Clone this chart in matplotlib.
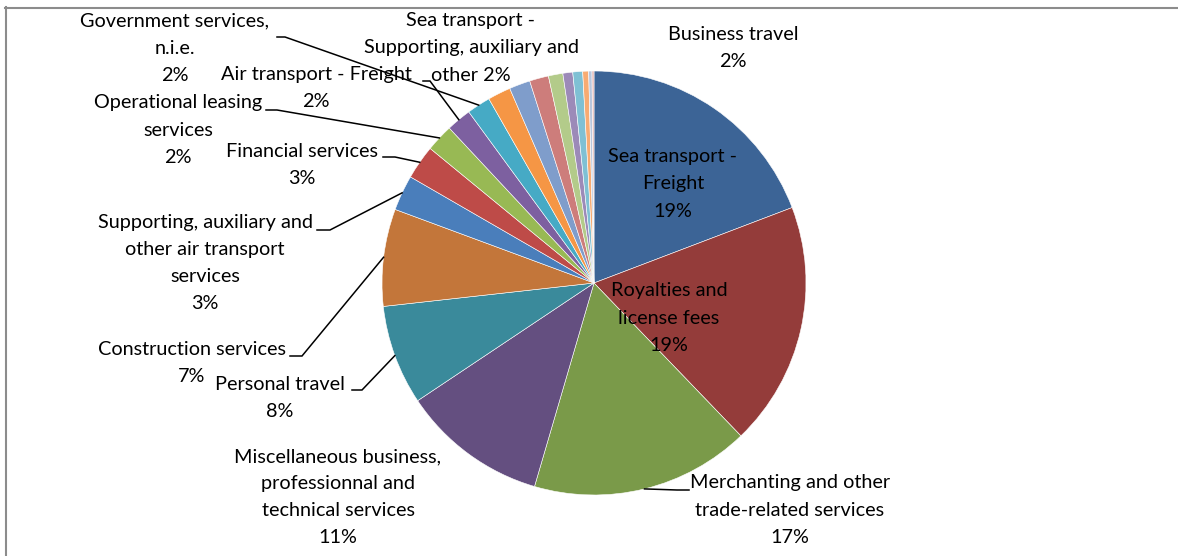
import matplotlib.pyplot as plt
import numpy as np
from matplotlib.lines import Line2D

plt.rcParams['font.family'] = ['Lato', 'DejaVu Sans']

W, H = 1178, 556

# slices, clockwise from 12 o'clock
names = [
    "Sea transport -\nFreight",
    "Royalties and\nlicense fees",
    "Merchanting and other\ntrade-related services",
    "Miscellaneous business,\nprofessionnal and\ntechnical services",
    "Personal travel",
    "Construction services",
    "Supporting, auxiliary and\nother air transport\nservices",
    "Financial services",
    "Operational leasing\nservices",
    "Air transport - Freight",
    "Government services,\nn.i.e.",
    "Sea transport -\nSupporting, auxiliary and\nother",
    "Business travel",
    "", "", "", "", "", "", "",
]
shares = [19.2, 18.6, 16.7, 11.1, 7.6, 7.4, 2.7, 2.6, 2.1, 1.9, 1.8, 1.75, 1.6,
          1.45, 1.1, 0.75, 0.75, 0.45, 0.25, 0.15]
colors = [
    "#3c6496", "#943c3a", "#7a9a49", "#644f80", "#3a8a9b", "#c3763a",
    "#4a7ebb", "#be4b48", "#98b954", "#7d60a0", "#46aac5", "#f59645",
    "#7f9dcb", "#cd7d7b", "#b3cb8a", "#9c8ab8", "#7fc0d4", "#f8ab72",
    "#b9c6dd", "#e4b5b3",
]
# how the percentage joins the name
pct_sep = {11: " "}

# label centres (pixels from top-left)
label_pos = {
    0: (673, 184), 1: (669, 318), 2: (790, 510), 3: (338, 497),
    4: (280, 398), 5: (192, 363), 6: (205, 263), 7: (302, 165),
    8: (178, 130), 9: (316, 88), 10: (175, 48), 11: (471, 48),
    12: (733, 48),
}
# leader lines: (x at label, x at elbow, y)
leaders = {
    10: (277, 285, 37), 9: (423, 430, 81), 8: (266, 277, 110),
    7: (383, 395, 157), 6: (317, 330, 230), 5: (290, 302, 356),
    4: (352, 362, 390), 2: (689, 677, 490),
}

cx, cy, R = 594, 283, 212

fig = plt.figure(figsize=(W / 100, H / 100), dpi=100)
ax = fig.add_axes([0, 0, 1, 1])

wedges, _ = ax.pie(shares, colors=colors, startangle=90, counterclock=False,
                   center=(cx, H - cy), radius=R, frame=True,
                   wedgeprops=dict(edgecolor="white", linewidth=0.4))
ax.set_xlim(0, W)
ax.set_ylim(0, H)
ax.axis("off")

total = sum(shares)
for i, (x, y) in label_pos.items():
    pct = "%.0f%%" % (shares[i] / total * 100)
    txt = names[i] + pct_sep.get(i, "\n") + pct
    ax.text(x, H - y, txt, ha="center", va="center", multialignment="center",
            fontsize=14.3, linespacing=1.72, color="black")

for i, (x0, x1, y) in leaders.items():
    w = wedges[i]
    mid = np.deg2rad((w.theta1 + w.theta2) / 2)
    ex = cx + R * np.cos(mid)
    ey = (H - cy) + R * np.sin(mid)
    ax.plot([x0, x1, ex], [H - y, H - y, ey], color="black", lw=1.1,
            solid_joinstyle="miter")

# chart area border (runs off the right and bottom)
fig.add_artist(Line2D([5.5 / W, 5.5 / W], [0, 1 - 7 / H], color="#8c8c8c", lw=1.5))
fig.add_artist(Line2D([5 / W, 1], [1 - 7.5 / H, 1 - 7.5 / H], color="#8c8c8c", lw=1.5))

fig.savefig("out.png", dpi=100)
